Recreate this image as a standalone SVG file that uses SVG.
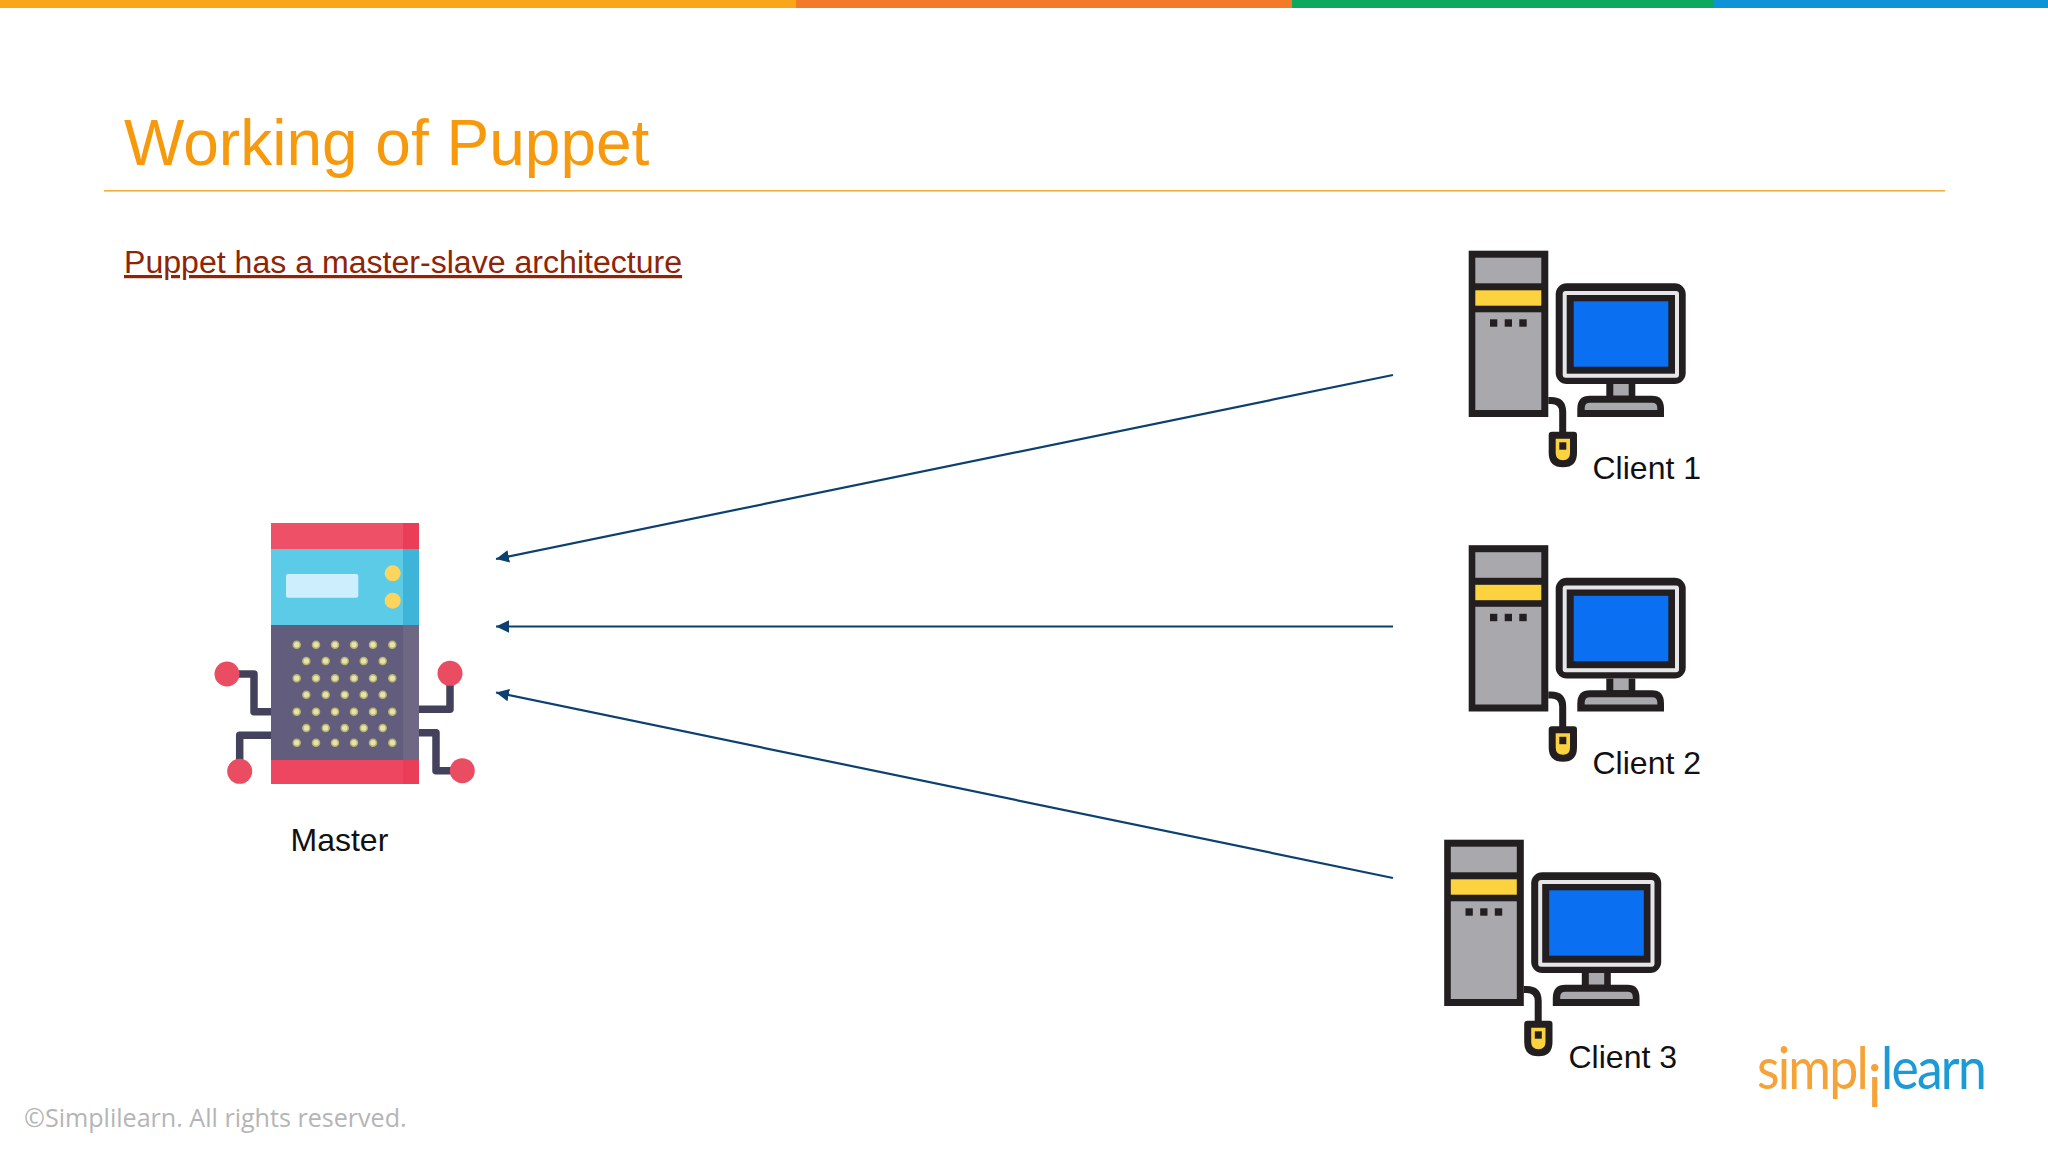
<svg xmlns="http://www.w3.org/2000/svg" width="2048" height="1152" viewBox="0 0 2048 1152">
<style>
.sans{font-family:"Liberation Sans",Arial,sans-serif}
.lbl{font-size:32px;fill:#111}
.wire{fill:none;stroke:#43415c;stroke-width:7.5;stroke-linejoin:round}
.node-dot{fill:#ea4c62}
.d{fill:#e8e2ae;stroke:#b5b56a;stroke-width:1.5}
.k{fill:#231f20}
.g{fill:#a9a8ac}
.y{fill:#fdd23f}
.conn{fill:none;stroke:#0b4070;stroke-width:2.2;marker-end:url(#arrow)}
.logo{font-family:Lato,sans-serif;font-size:58px;font-weight:400;letter-spacing:-2px}
</style>
<defs>
<marker id="arrow" markerUnits="userSpaceOnUse" markerWidth="16" markerHeight="16" refX="13" refY="7" orient="auto">
<path d="M13 7L0 0.8V13.2Z" fill="#0b4070"/>
</marker>
<g id="pc">
<rect class="k" x="1468.7" y="250.7" width="79.6" height="166.3"/>
<rect class="g" x="1475.3" y="257.7" width="66" height="25.6"/>
<rect class="y" x="1475.3" y="290.3" width="66" height="15.4"/>
<rect class="g" x="1475.3" y="312.3" width="66" height="97.7"/>
<rect class="k" x="1490" y="319.3" width="7.3" height="7.4"/>
<rect class="k" x="1504.7" y="319.3" width="7.3" height="7.4"/>
<rect class="k" x="1519.3" y="319.3" width="7.4" height="7.4"/>
<rect class="k" x="1555.7" y="283.3" width="130" height="100.7" rx="11"/>
<rect x="1562.7" y="291" width="116.3" height="86.7" rx="3" fill="#e6e6e8"/>
<rect class="k" x="1566.7" y="295" width="108.3" height="78.7"/>
<rect x="1573.7" y="301.3" width="94.6" height="65.4" fill="#0a6ff0"/>
<rect class="k" x="1606.3" y="384" width="29" height="16"/>
<rect class="g" x="1613.3" y="384" width="15.4" height="11.7"/>
<path class="k" d="M1577.3 417V409Q1577.3 395.7 1590 395.7H1652Q1664 395.7 1664 409V417Z"/>
<path class="g" d="M1584.7 410V408Q1584.7 402.7 1590 402.7H1652Q1657.3 402.7 1657.3 408V410Z"/>
<path d="M1548.3 400.5H1551Q1562.7 400.5 1562.7 412V433" fill="none" stroke="#231f20" stroke-width="7"/>
<path class="k" d="M1552 431.7H1574Q1577 431.7 1577 435V453Q1577 467.3 1563 467.3Q1548.7 467.3 1548.7 453V435Q1548.7 431.7 1552 431.7Z"/>
<path class="y" d="M1555.7 438.7H1570V453Q1570 460.3 1563 460.3Q1555.7 460.3 1555.7 453Z"/>
<rect class="k" x="1559.3" y="442.3" width="7" height="7.4"/>
</g>
</defs>
<rect width="2048" height="1152" fill="#fff"/>
<g id="topbar">
<rect x="0" y="0" width="796" height="8" fill="#faa61a"/>
<rect x="796" y="0" width="496" height="8" fill="#f27a28"/>
<rect x="1292" y="0" width="421" height="8" fill="#0ca85d"/>
<rect x="1713" y="0" width="335" height="8" fill="#0d93d6"/>
</g>
<text class="sans" x="124" y="165" font-size="64" fill="#f7990d">Working of Puppet</text>
<rect x="104" y="190" width="1841" height="1.6" fill="#f5ae3c"/>
<text class="sans" x="124" y="273" font-size="32.1" fill="#8f2406" text-decoration="underline">Puppet has a master-slave architecture</text>
<g id="connectors">
<path class="conn" d="M1393 375L496 559"/>
<path class="conn" d="M1393 626.5H496"/>
<path class="conn" d="M1393 878L496 692.5"/>
</g>
<g id="master">
<path class="wire" d="M227 674H254V711.7H271"/>
<path class="wire" d="M271 735.3H239.7V771"/>
<path class="wire" d="M419 709.3H450V673"/>
<path class="wire" d="M419 732.7H436V770.7H462"/>
<circle class="node-dot" cx="227" cy="674" r="12.5"/>
<circle class="node-dot" cx="450" cy="673.3" r="12.5"/>
<circle class="node-dot" cx="239.7" cy="771.3" r="12.5"/>
<circle class="node-dot" cx="462.3" cy="770.7" r="12.5"/>
<rect x="271" y="523" width="148" height="26" fill="#ee5067"/>
<rect x="403" y="523" width="16" height="26" fill="#ea3d57"/>
<rect x="271" y="549" width="148" height="76" fill="#5ccbe8"/>
<rect x="403" y="549" width="16" height="76" fill="#3eb5d8"/>
<rect x="271" y="625" width="148" height="135" fill="#635d7d"/>
<rect x="403" y="625" width="16" height="135" fill="#6e6885"/>
<rect x="271" y="760" width="148" height="24" fill="#ee4560"/>
<rect x="403" y="760" width="16" height="24" fill="#ea3d57"/>
<rect x="286" y="574" width="72.3" height="23.7" rx="2" fill="#cdeffd"/>
<circle cx="392.7" cy="573.3" r="8" fill="#fdd55c"/>
<circle cx="392.7" cy="600.7" r="8" fill="#fdd55c"/>
<g>
<circle class="d" cx="296.7" cy="644.7" r="3.5"/><circle class="d" cx="316" cy="644.7" r="3.5"/><circle class="d" cx="335" cy="644.7" r="3.5"/><circle class="d" cx="354" cy="644.7" r="3.5"/><circle class="d" cx="373" cy="644.7" r="3.5"/><circle class="d" cx="392.3" cy="644.7" r="3.5"/>
<circle class="d" cx="306.3" cy="661" r="3.5"/><circle class="d" cx="325.7" cy="661" r="3.5"/><circle class="d" cx="344.7" cy="661" r="3.5"/><circle class="d" cx="363.7" cy="661" r="3.5"/><circle class="d" cx="382.7" cy="661" r="3.5"/>
<circle class="d" cx="296.7" cy="678.3" r="3.5"/><circle class="d" cx="316" cy="678.3" r="3.5"/><circle class="d" cx="335" cy="678.3" r="3.5"/><circle class="d" cx="354" cy="678.3" r="3.5"/><circle class="d" cx="373" cy="678.3" r="3.5"/><circle class="d" cx="392.3" cy="678.3" r="3.5"/>
<circle class="d" cx="306.3" cy="694.7" r="3.5"/><circle class="d" cx="325.7" cy="694.7" r="3.5"/><circle class="d" cx="344.7" cy="694.7" r="3.5"/><circle class="d" cx="363.7" cy="694.7" r="3.5"/><circle class="d" cx="382.7" cy="694.7" r="3.5"/>
<circle class="d" cx="296.7" cy="711.7" r="3.5"/><circle class="d" cx="316" cy="711.7" r="3.5"/><circle class="d" cx="335" cy="711.7" r="3.5"/><circle class="d" cx="354" cy="711.7" r="3.5"/><circle class="d" cx="373" cy="711.7" r="3.5"/><circle class="d" cx="392.3" cy="711.7" r="3.5"/>
<circle class="d" cx="306.3" cy="728" r="3.5"/><circle class="d" cx="325.7" cy="728" r="3.5"/><circle class="d" cx="344.7" cy="728" r="3.5"/><circle class="d" cx="363.7" cy="728" r="3.5"/><circle class="d" cx="382.7" cy="728" r="3.5"/>
<circle class="d" cx="296.7" cy="742.7" r="3.5"/><circle class="d" cx="316" cy="742.7" r="3.5"/><circle class="d" cx="335" cy="742.7" r="3.5"/><circle class="d" cx="354" cy="742.7" r="3.5"/><circle class="d" cx="373" cy="742.7" r="3.5"/><circle class="d" cx="392.3" cy="742.7" r="3.5"/>
</g>
<text class="sans lbl" x="290.5" y="851">Master</text>
</g>
<g id="client1">
<use href="#pc"/>
<text class="sans lbl" x="1592.5" y="479">Client 1</text>
</g>
<g id="client2">
<use href="#pc" y="294.5"/>
<text class="sans lbl" x="1592.5" y="773.5">Client 2</text>
</g>
<g id="client3">
<use href="#pc" x="-24.5" y="589"/>
<text class="sans lbl" x="1568.5" y="1068">Client 3</text>
</g>
<g id="logo">
<text class="logo" x="1757" y="1089" fill="#f5a338" textLength="110" lengthAdjust="spacingAndGlyphs">simpl</text>
<text class="logo" x="1873.7" y="1107" text-anchor="middle" fill="#f5a338">i</text>
<text class="logo" x="1881" y="1089" fill="#1b9ad6" textLength="104" lengthAdjust="spacingAndGlyphs">learn</text>
</g>
<text id="copyright" x="24" y="1127" font-family="'Open Sans',sans-serif" font-size="25.1" fill="#b5b5b5">©Simplilearn. All rights reserved.</text>
</svg>
